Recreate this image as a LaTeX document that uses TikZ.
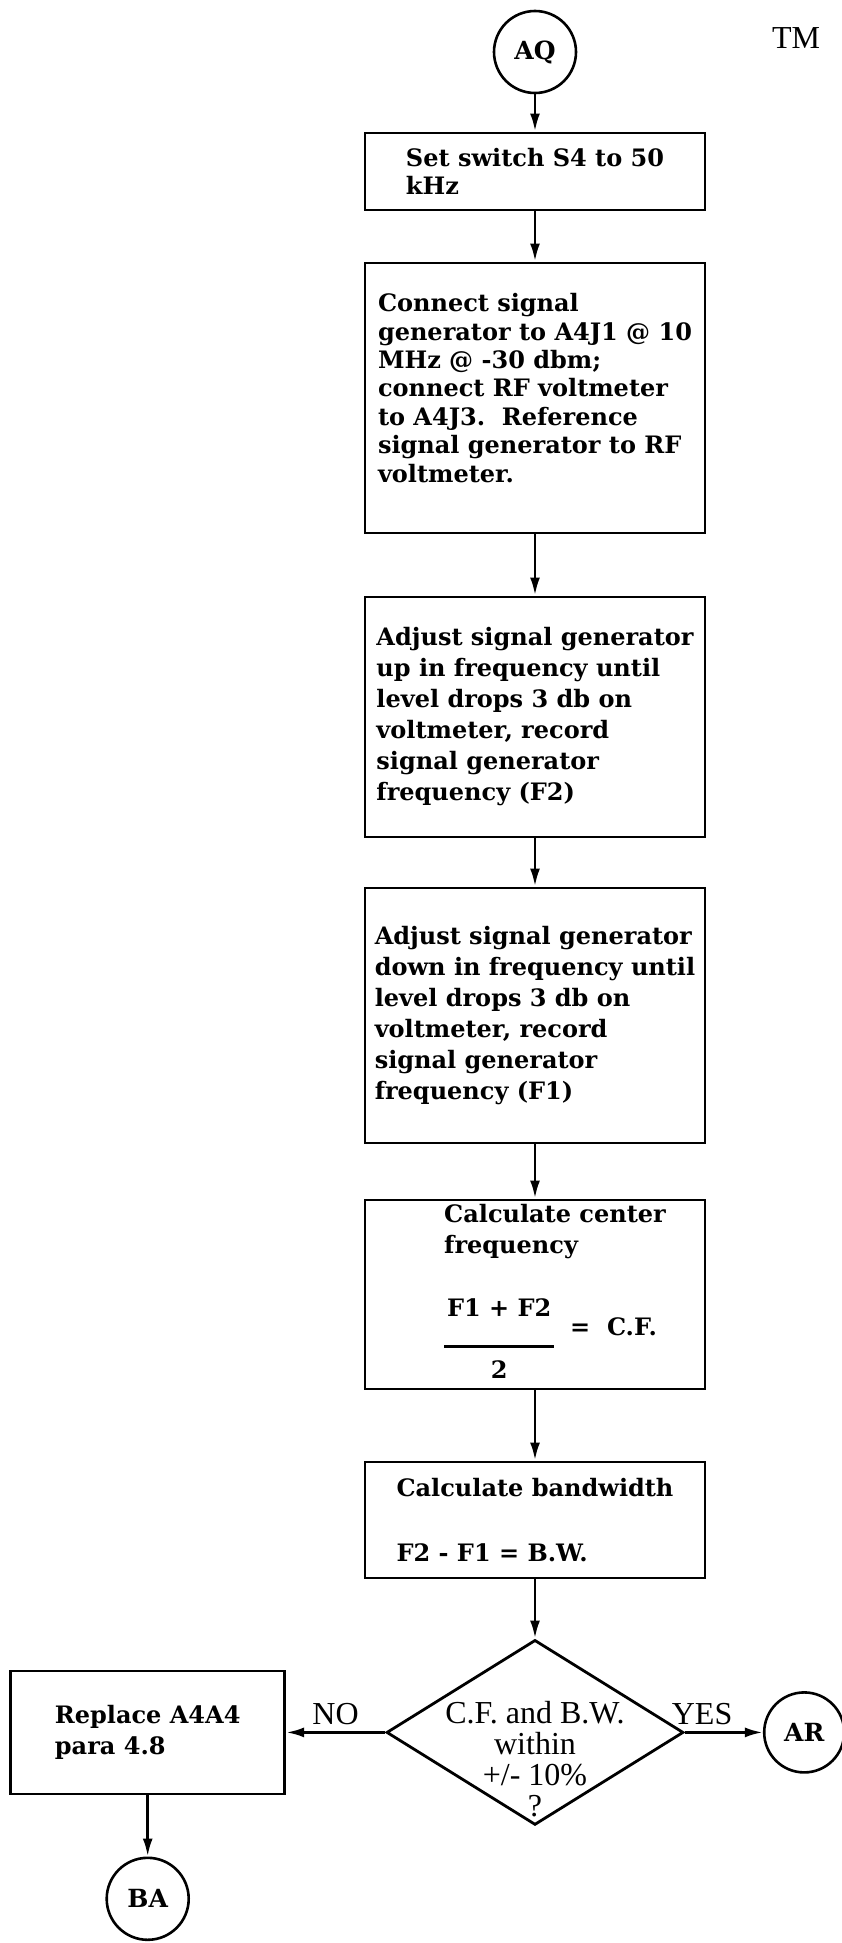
\documentclass[tikz,border=0pt]{standalone}
\usepackage{fontspec}
\setmainfont{DejaVu Serif}
\newfontfamily\timesrm{Liberation Serif}
\usepackage{tikz}
\usetikzlibrary{positioning,arrows.meta,shapes,shapes.geometric}
\definecolor{ink}{RGB}{0,0,0}
\newcommand{\boxfont}{\fontsize{12}{15.5}\selectfont\bfseries}
\newcommand{\boxtight}{\fontsize{12}{14.2}\selectfont\bfseries}
\newcommand{\termfont}{\fontsize{12.5}{14}\selectfont\bfseries}
\newcommand{\qfont}{\timesrm\fontsize{16}{15.5}\selectfont}

\begin{document}
\begin{tikzpicture}[
  x=0.5pt, y=-0.5pt,
  stepbox/.style={draw=ink, line width=1.4pt, minimum width=170pt, align=left,
                  inner sep=3pt, font=\boxfont},
  term/.style={draw=ink, circle, line width=1.3pt, minimum size=41pt,
               inner sep=0pt, font=\termfont},
  test/.style={draw=ink, diamond, line width=1.4pt, minimum width=148.5pt,
               minimum height=92.5pt, inner sep=0pt},
  qtext/.style={font=\qfont, align=center, yshift=-13.5pt},
  tag/.style={font=\qfont},
  arr/.style={-{Latex[length=9pt,width=5pt]}, line width=1.4pt, draw=ink},
]
\useasboundingbox (0,0) rectangle (841,1943);

% Main column
\node[term] (aq) at (535,52) {AQ};
\node[stepbox, font=\boxtight, minimum height=38.5pt, below=18.6pt of aq] (setsw)
  {Set switch S4 to 50\\kHz};
\node[stepbox, font=\boxtight, minimum height=135pt, below=25.1pt of setsw] (conn)
  {Connect signal\\generator to A4J1 @ 10\\MHz @ -30 dbm;\\connect RF voltmeter\\to A4J3.\ \ Reference\\signal generator to RF\\voltmeter.\\[-4pt]\mbox{}};
\node[stepbox, minimum height=120pt, below=30.6pt of conn] (up)
  {Adjust signal generator\\up in frequency until\\level drops 3 db on\\voltmeter, record\\signal generator\\frequency (F2)};
\node[stepbox, minimum height=127.5pt, below=24.1pt of up] (down)
  {Adjust signal generator\\down in frequency until\\level drops 3 db on\\voltmeter, record\\signal generator\\frequency (F1)};
\node[stepbox, inner ysep=0pt, minimum height=94.5pt, below=27.1pt of down] (calc)
  {\hspace*{20pt}\begin{tabular}{@{}l@{}}Calculate center\\frequency\\[16pt]
   \begin{tabular}[c]{@{}c@{}}F1 + F2\\\rule{55pt}{1.4pt}\\2\end{tabular}\hspace{8pt}\raisebox{6pt}{=\ \ C.F.}\end{tabular}};
\node[stepbox, minimum height=58pt, below=35.1pt of calc] (bw)
  {Calculate bandwidth\\[17pt]F2 - F1 = B.W.};
\node[test, below=29.6pt of bw,
      label={[qtext]center:C.F. and B.W.\\within\\+/- 10\%\\?}] (dec) {};

% Branches
\node[term, right=39pt of dec, minimum size=40pt] (ar) {AR};
\node[stepbox, minimum width=137pt, minimum height=61.5pt, left=49.5pt of dec] (repl)
  {Replace A4A4\\para 4.8};
\node[term, below=30.6pt of repl] (ba) {BA};

\node[tag] (tm) at (796,38) {TM};

% Connections
\foreach \a/\b in {aq/setsw, setsw/conn, conn/up, up/down, down/calc, calc/bw, bw/dec}
  { \draw[arr] (\a) -- (\b); }
\draw[arr] (dec) -- node[tag, above, pos=0.22] {YES} (ar);
\draw[arr] (dec) -- node[tag, above] {NO} (repl);
\draw[arr] (repl) -- (ba);
\end{tikzpicture}
\end{document}
